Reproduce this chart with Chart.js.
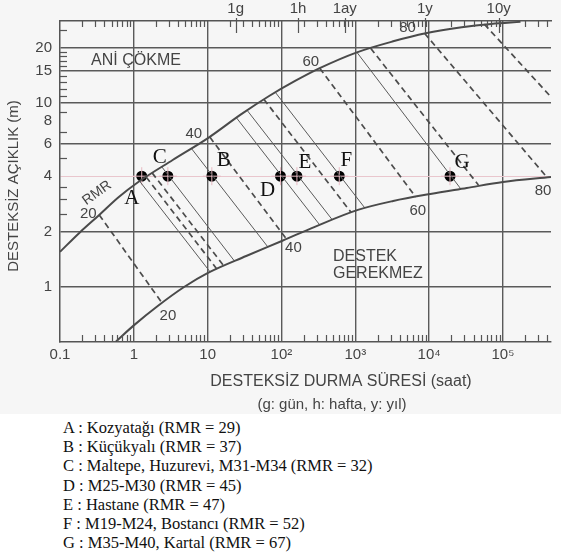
<!DOCTYPE html>
<html>
<head>
<meta charset="utf-8">
<script src="https://cdn.jsdelivr.net/npm/chart.js@4/dist/chart.umd.min.js"></script>
<style>
html,body{margin:0;padding:0;background:#fff;overflow:hidden}
#wrap{position:relative;width:561px;height:558px}
#box{position:absolute;left:0;top:0;width:561px;height:414px;background:#f6f6f6}
#legend{position:absolute;left:63px;top:418px;font:16.5px "Liberation Serif","Times New Roman",serif;line-height:19.2px;color:#111;white-space:nowrap}
</style>
</head>
<body>
<div id="wrap">
  <div id="box"><canvas id="c" width="561" height="414"></canvas></div>
  <div id="legend"></div>
</div>
<script>
// axes (time in hours, span in metres)
const xTicks = [0.1, 1, 10, 100, 1000, 10000, 100000];
const xLabels = ['0.1', '1', '10', '10²', '10³', '10⁴', '10⁵'];
const yTicks = [1, 2, 4, 6, 8, 10, 15, 20];
const yMinor = [2.5, 3, 3.5, 5, 7, 9, 11, 12, 13, 14, 16, 17, 18, 19, 25];
const topT = [24, 168, 720, 8760, 87600];
const topLabels = ['1g', '1h', '1ay', '1y', '10y'];

// upper boundary (immediate collapse)
const upperT = [0.1, 0.184, 0.34, 0.626, 1.15, 3.36, 10.1, 28.6, 67.2, 153, 330, 1052, 3260, 8950, 27700, 69300, 173000];
const upperS = [1.55, 1.97, 2.46, 3.08, 3.72, 4.90, 6.45, 8.71, 10.9, 13.2, 15.5, 18.9, 21.7, 24.0, 25.9, 27.0, 27.7];
// lower boundary (no support required)
const lowerT = [0.571, 0.99, 2.13, 4.85, 10.1, 33.3, 103, 283, 1085, 3260, 10400, 32300, 100000, 448000];
const lowerS = [0.502, 0.614, 0.788, 1.0, 1.19, 1.47, 1.78, 2.12, 2.62, 2.93, 3.20, 3.45, 3.72, 3.96];

// RMR contours, dashed: [t1, s1, t2, s2]
const dashedLines = [
  [0.34, 2.46, 2.40, 0.818],
  [1.47, 3.96, 13.3, 1.25],
  [1.77, 4.17, 16.5, 1.30],
  [10.7, 6.53, 116.6, 1.82],
  [57.7, 10.5, 877, 2.54],
  [330, 15.5, 6590, 3.08],
  [1615, 19.9, 46600, 3.58],
  [8670, 24.0, 396000, 3.94],
  [56000, 26.9, 448000, 10.8]
];
// thin lines through the sites: [t1, s1, t2, s2]
const siteLines = [
  [1.19, 3.77, 10.7, 1.21],
  [2.40, 4.49, 23.1, 1.38],
  [6.01, 5.67, 65.2, 1.65],
  [24.5, 8.33, 330, 2.17],
  [34.3, 9.13, 490, 2.31],
  [83.3, 11.4, 1343, 2.69],
  [1052, 18.9, 26900, 3.41]
];
const contourIdx = [0, 3, 5, 7];
const contourVal = ['20', '40', '60', '80'];

// sites
const siteLetters = ['A', 'B', 'C', 'D', 'E', 'F', 'G'];
const siteNames = ['Kozyatağı', 'Küçükyalı', 'Maltepe, Huzurevi, M31-M34', 'M25-M30', 'Hastane', 'M19-M24, Bostancı', 'M35-M40, Kartal'];
const siteRMR = [29, 37, 32, 45, 47, 52, 67];
const siteT = [1.28, 11.4, 2.89, 97, 162, 607, 19200];
const siteS = [4, 4, 4, 4, 4, 4, 4];

// label offsets (px)
const letterDx = [-10, 12, -8, -13, 8, 7, 12];
const letterDy = [22, -16, -19, 14, -14, -16, -14];
const upOff = [[-11, -1], [-16, -3], [-9, -6], [-17, -5]];
const lowOff = [[6, 13], [7, 9], [2, 14], [-4, 13]];

document.getElementById('legend').innerHTML = siteLetters
  .map((l, i) => `<div>${l} : ${siteNames[i]} (RMR = ${siteRMR[i]})</div>`).join('');

const ink = '#4a4a4a';
const sans = '"Liberation Sans", Arial, sans-serif';
const seg = (r) => [{x: r[0], y: r[1]}, {x: r[2], y: r[3]}];

const datasets = [];
datasets.push({data: upperT.map((t, i) => ({x: t, y: upperS[i]})), showLine: true, pointRadius: 0,
  borderColor: ink, borderWidth: 2, tension: 0.4, cubicInterpolationMode: 'monotone'});
datasets.push({data: lowerT.map((t, i) => ({x: t, y: lowerS[i]})), showLine: true, pointRadius: 0,
  borderColor: ink, borderWidth: 2, tension: 0.4, cubicInterpolationMode: 'monotone'});
dashedLines.forEach(r => datasets.push({data: seg(r), showLine: true, pointRadius: 0,
  borderColor: '#4c4c4c', borderWidth: 1.7, borderDash: [6, 4]}));
siteLines.forEach(r => datasets.push({data: seg(r), showLine: true, pointRadius: 0,
  borderColor: '#5a5a5a', borderWidth: 1}));
// pink crosses under the dots
datasets.push({data: siteT.map((t, i) => ({x: t, y: siteS[i]})), pointStyle: 'cross', pointRadius: 9,
  borderColor: '#e7b9c2', borderWidth: 1, backgroundColor: 'transparent'});
datasets.push({data: siteT.map((t, i) => ({x: t, y: siteS[i]})), pointRadius: 5.5,
  backgroundColor: '#000', borderColor: '#000', borderWidth: 0});

const marks = {
  id: 'marks',
  afterDraw(chart) {
    const {ctx, chartArea: a, scales: {x, y}} = chart;
    const line = (x1, y1, x2, y2) => { ctx.beginPath(); ctx.moveTo(x1, y1); ctx.lineTo(x2, y2); ctx.stroke(); };
    ctx.save();
    ctx.strokeStyle = '#555'; ctx.lineWidth = 1.2;
    for (let d = -1; d <= 5; d++) for (let m = 2; m <= 9; m++) {
      const v = m * Math.pow(10, d);
      if (v > x.max) continue;
      const px = Math.round(x.getPixelForValue(v)) + 0.5;
      line(px, a.bottom, px, a.bottom - 7);
      line(px, a.top, px, a.top + 6);
    }
    topT.forEach(v => { const px = Math.round(x.getPixelForValue(v)) + 0.5; line(px, a.top - 3, px, a.top + 12); });
    yMinor.forEach(v => { const py = Math.round(y.getPixelForValue(v)) + 0.5; line(a.left, py, a.left + 7, py); });

    // texts
    ctx.fillStyle = '#444';
    ctx.textAlign = 'center'; ctx.textBaseline = 'middle';
    ctx.font = '16px ' + sans;
    ctx.fillText('ANİ ÇÖKME', 136, 61);
    ctx.textAlign = 'left';
    ctx.fillText('DESTEK', 333, 257);
    ctx.fillText('GEREKMEZ', 333, 274);
    ctx.textAlign = 'center';
    ctx.fillText('DESTEKSİZ DURMA SÜRESİ (saat)', 341, 382);
    ctx.font = '15px ' + sans;
    ctx.fillText('(g: gün, h: hafta, y: yıl)', 332, 405);
    ctx.save();
    ctx.translate(14, 186); ctx.rotate(-Math.PI / 2);
    ctx.font = '15px ' + sans;
    ctx.fillText('DESTEKSİZ AÇIKLIK (m)', 0, 0);
    ctx.restore();
    ctx.save();
    ctx.translate(97, 193); ctx.rotate(-0.62);
    ctx.font = '14px ' + sans;
    ctx.fillText('RMR', 0, 0);
    ctx.restore();

    // contour values at both ends
    ctx.font = '15px ' + sans;
    contourIdx.forEach((k, j) => {
      const r = dashedLines[k];
      ctx.fillText(contourVal[j], x.getPixelForValue(r[0]) + upOff[j][0], y.getPixelForValue(r[1]) + upOff[j][1]);
      ctx.fillText(contourVal[j], x.getPixelForValue(r[2]) + lowOff[j][0], y.getPixelForValue(r[3]) + lowOff[j][1]);
    });

    // site letters
    ctx.fillStyle = '#111';
    ctx.font = '21px "Liberation Serif", "Times New Roman", serif';
    siteLetters.forEach((l, i) => {
      ctx.fillText(l, x.getPixelForValue(siteT[i]) + letterDx[i], y.getPixelForValue(siteS[i]) + letterDy[i]);
    });
    ctx.restore();
  }
};

Chart.defaults.font.family = sans;
Chart.defaults.font.size = 15;
Chart.defaults.color = '#444';

new Chart(document.getElementById('c'), {
  type: 'scatter',
  data: {datasets},
  options: {
    responsive: false,
    animation: false,
    events: [],
    layout: {padding: 0},
    plugins: {legend: {display: false}, tooltip: {enabled: false}},
    scales: {
      x: {
        type: 'logarithmic', position: 'bottom', min: 0.1, max: 448000,
        afterBuildTicks: s => { s.ticks = xTicks.map(v => ({value: v})); },
        afterFit: s => { s.height = 72; },
        ticks: {padding: 4, maxRotation: 0, autoSkip: false, callback: (v, i) => xLabels[i]},
        grid: {drawTicks: false, color: c => (c.tick && c.tick.value === 0.1 ? 'transparent' : '#5a5a5a'), lineWidth: 1.4},
        border: {color: '#555', width: 1.5}
      },
      x2: {
        type: 'logarithmic', position: 'top', min: 0.1, max: 448000,
        afterBuildTicks: s => { s.ticks = topT.map(v => ({value: v})); },
        afterFit: s => { s.height = 21; },
        ticks: {padding: 3, maxRotation: 0, autoSkip: false, callback: (v, i) => topLabels[i]},
        grid: {drawOnChartArea: false, drawTicks: false},
        border: {color: '#555', width: 1.5}
      },
      y: {
        type: 'logarithmic', min: 0.5, max: 28,
        afterBuildTicks: s => { s.ticks = yTicks.map(v => ({value: v})); },
        afterFit: s => { s.width = 60; },
        ticks: {padding: 8, autoSkip: false, callback: v => String(v)},
        grid: {
          drawTicks: false,
          color: c => (c.tick && c.tick.value === 4 ? '#e9c6cd' : c.tick && c.tick.value === 8 ? 'transparent' : '#5a5a5a'),
          lineWidth: c => (c.tick && c.tick.value === 4 ? 1 : 1.4)
        },
        border: {color: '#555', width: 1.5}
      }
    }
  },
  plugins: [marks]
});
</script>
</body>
</html>
